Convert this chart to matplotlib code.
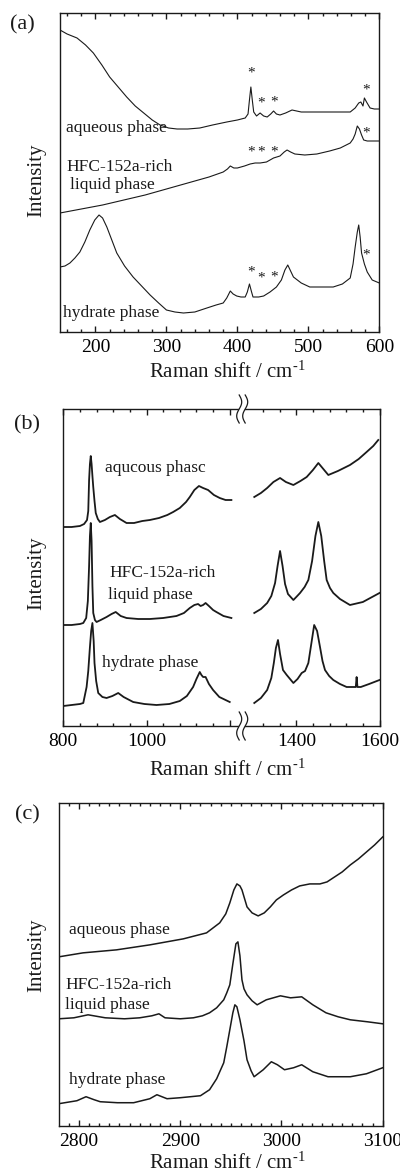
import numpy as np
import matplotlib
matplotlib.use('Agg')
import matplotlib.pyplot as plt
from matplotlib.lines import Line2D
from matplotlib.patches import Polygon

plt.rcParams['font.family'] = 'Liberation Serif'
plt.rcParams['mathtext.fontset'] = 'custom'
plt.rcParams['mathtext.rm'] = 'Liberation Serif'
plt.rcParams['mathtext.default'] = 'regular'

W, H = 400, 1174

# ---- panel (a): 150-600 cm-1 ----
a_aq_x = [150, 160, 174, 186, 197, 209, 220, 232, 244, 256, 268, 280, 291, 303, 315, 330, 347, 365, 385, 400,
          411, 415, 417, 419, 421, 423, 427, 432, 437, 442, 447, 451, 455, 460, 468, 477, 490, 512, 535, 559,
          566, 571, 574, 577, 579, 582, 587, 593, 600]
a_aq_y = [302, 298, 294, 287, 279, 267, 255, 245, 235, 226, 219, 212, 207, 204, 203, 203, 204, 207, 210, 212,
          214, 218, 232, 245, 232, 220, 216, 219, 216, 215, 218, 221, 218, 217, 219, 222, 220, 220, 220, 220,
          224, 229, 230, 226, 234, 230, 224, 223, 223]
a_lq_x = [150, 180, 210, 240, 270, 300, 330, 360, 380, 386, 390, 395, 400, 410, 418, 425, 432, 441, 451, 460,
          466, 470, 475, 481, 495, 512, 530, 545, 559, 563, 566, 569, 572, 575, 578, 583, 590, 600]
a_lq_y = [119, 123, 127, 132, 137, 143, 149, 155, 160, 163, 166, 164, 164, 166, 168, 169, 169, 170, 174, 176,
          180, 182, 180, 178, 177, 178, 181, 184, 189, 193, 198, 206, 203, 197, 192, 191, 191, 191]
a_hy_x = [150, 157, 164, 171, 178, 185, 192, 199, 205, 210, 216, 223, 230, 241, 253, 265, 277, 289, 300, 312,
          324, 340, 357, 370, 380, 385, 390, 394, 399, 405, 411, 414, 417, 420, 422, 430, 437, 446, 455, 462,
          467, 471, 475, 479, 490, 502, 520, 535, 548, 559, 563, 566, 569, 571, 573, 575, 579, 583, 590, 600]
a_hy_y = [65, 66, 69, 74, 80, 90, 102, 112, 117, 114, 105, 92, 79, 66, 55, 46, 37, 29, 22, 20,
          19, 20, 24, 27, 29, 34, 41, 38, 36, 35, 35, 40, 48, 40, 35, 35, 36, 40, 45, 52,
          62, 67, 61, 55, 49, 45, 45, 45, 48, 54, 68, 85, 100, 107, 95, 79, 68, 60, 52, 49]
# asterisks marking bands
a_star_x = [419, 433, 451, 582, 419, 433, 451, 582, 419, 433, 451, 582]
a_star_y = [259, 229, 230, 242, 180, 180, 180, 199, 60, 54, 55, 77]

# ---- panel (b): 800-1600 cm-1, broken axis ----
b_aq_lx = [800, 820, 840, 850, 857, 860, 862, 864, 866, 868, 870, 872, 875, 878, 883, 888, 900, 912, 924, 936,
           952, 970, 990, 1008, 1030, 1050, 1064, 1080, 1095, 1104, 1115, 1126, 1136, 1148, 1162, 1176, 1190, 1204]
b_aq_ly = [199, 199, 200, 202, 206, 215, 246, 262, 270, 262, 250, 239, 225, 213, 207, 204, 206, 209, 211, 207,
           203, 203, 205, 206, 208, 211, 214, 218, 224, 229, 236, 240, 238, 236, 231, 228, 226, 226]
b_aq_rx = [1299, 1315, 1330, 1345, 1361, 1375, 1393, 1410, 1425, 1440, 1453, 1465, 1477, 1500, 1529, 1550, 1569, 1585, 1597]
b_aq_ry = [229, 233, 238, 244, 248, 244, 241, 245, 249, 256, 263, 257, 251, 255, 261, 267, 274, 280, 286]
b_lq_lx = [800, 820, 840, 848, 855, 859, 862, 864, 866, 868, 870, 872, 876, 880, 890, 904, 916, 926, 938, 952,
           980, 1008, 1040, 1072, 1090, 1104, 1115, 1124, 1130, 1136, 1142, 1150, 1160, 1168, 1185, 1204]
b_lq_ly = [101, 101, 102, 103, 108, 125, 160, 190, 203, 185, 140, 113, 106, 104, 106, 109, 112, 114, 110, 108,
           107, 107, 108, 110, 113, 118, 121, 122, 120, 121, 123, 120, 116, 114, 110, 108]
b_lq_rx = [1299, 1315, 1330, 1340, 1349, 1355, 1361, 1367, 1373, 1380, 1393, 1400, 1409, 1420, 1429, 1438, 1446,
           1453, 1460, 1467, 1473, 1481, 1489, 1505, 1529, 1560, 1600]
b_lq_ry = [113, 117, 123, 130, 143, 160, 175, 160, 142, 132, 126, 129, 133, 139, 146, 165, 190,
           204, 190, 165, 146, 138, 133, 127, 121, 124, 133]
b_hy_lx = [800, 820, 840, 848, 856, 860, 864, 867, 870, 873, 875, 879, 884, 894, 904, 918, 932, 945, 968, 995,
           1024, 1055, 1080, 1097, 1112, 1120, 1128, 1132, 1136, 1142, 1150, 1160, 1175, 1200]
b_hy_ly = [20, 21, 22, 23, 39, 55, 79, 95, 103, 85, 63, 45, 33, 29, 28, 30, 33, 29, 24, 22,
           21, 22, 25, 30, 39, 47, 54, 51, 49, 49, 42, 36, 29, 24]
b_hy_rx = [1299, 1315, 1330, 1340, 1346, 1351, 1356, 1361, 1368, 1377, 1385, 1393, 1403, 1413, 1421, 1429, 1436,
           1443, 1450, 1457, 1463, 1469, 1479, 1489, 1505, 1521, 1535, 1543, 1545, 1547, 1555, 1575, 1600]
b_hy_ry = [23, 28, 36, 48, 63, 78, 86, 72, 56, 51, 47, 43, 47, 53, 55, 63, 82,
           101, 95, 79, 65, 56, 50, 46, 42, 39, 39, 39, 49, 39, 39, 42, 46]

# ---- panel (c): 2780-3100 cm-1 ----
c_aq_x = [2780, 2804, 2837, 2870, 2903, 2926, 2939, 2945, 2949, 2953, 2956, 2959, 2961, 2966, 2971, 2977, 2983,
          2989, 2995, 3002, 3010, 3018, 3028, 3038, 3045, 3051, 3060, 3068, 3076, 3084, 3092, 3100]
c_aq_y = [169, 173, 176, 181, 187, 193, 203, 212, 223, 236, 242, 240, 236, 219, 213, 210, 213,
          219, 226, 231, 236, 240, 242, 242, 244, 248, 254, 261, 267, 274, 281, 289]
c_lq_x = [2780, 2795, 2809, 2826, 2845, 2860, 2872, 2879, 2885, 2900, 2913, 2922, 2929, 2936, 2943, 2946, 2949,
          2952, 2955, 2957, 2959, 2961, 2963, 2966, 2971, 2976, 2985, 2999, 3009, 3020, 3031, 3044, 3056, 3068,
          3085, 3100]
c_lq_y = [107, 108, 111, 108, 107, 108, 110, 112, 108, 107, 108, 110, 113, 118, 126, 133, 141,
          162, 182, 184, 170, 146, 137, 131, 125, 121, 126, 130, 128, 129, 121, 113, 109, 106,
          104, 102]
c_hy_x = [2780, 2798, 2807, 2815, 2821, 2838, 2854, 2870, 2877, 2887, 2900, 2920, 2929, 2936, 2943, 2946, 2949,
          2952, 2954, 2956, 2959, 2963, 2966, 2970, 2973, 2982, 2990, 2996, 3003, 3012, 3020, 3031, 3046, 3068,
          3084, 3100]
c_hy_y = [22, 25, 29, 26, 24, 23, 23, 27, 31, 27, 28, 30, 36, 47, 63, 79, 96,
          113, 121, 119, 106, 85, 66, 55, 49, 56, 64, 61, 56, 58, 61, 54, 49, 49,
          52, 58]

LC = '#1a1a1a'


def fpos(x, y):
    # pixel position (from top-left) -> figure fraction
    return x / W, 1 - y / H


def axrect(x0, y0, x1, y1):
    return [x0 / W, 1 - y1 / H, (x1 - x0) / W, (y1 - y0) / H]


def style_ax(ax, major, minor):
    ax.set_yticks([])
    ax.set_xticks(major)
    ax.set_xticks(minor, minor=True)
    ax.tick_params(axis='x', which='both', direction='in', top=True, bottom=True,
                   labelsize=14, pad=5, width=1, color=LC)
    ax.tick_params(axis='x', which='major', length=4)
    ax.tick_params(axis='x', which='minor', length=2.2)
    for s in ax.spines.values():
        s.set_linewidth(1.0)
        s.set_color(LC)


def label(x, y, s, size=12.5, ha='left'):
    fig.text(*fpos(x, y), s, fontsize=size, ha=ha, va='center', color=LC)


fig = plt.figure(figsize=(W / 100, H / 100), dpi=100)

# (a)
axa = fig.add_axes(axrect(60, 13, 379.3, 332))
for x, y in [(a_aq_x, a_aq_y), (a_lq_x, a_lq_y), (a_hy_x, a_hy_y)]:
    axa.plot(x, y, color=LC, lw=0.8)
for x, y in zip(a_star_x, a_star_y):
    axa.text(x, y, '*', fontsize=11, ha='center', va='center', color=LC)
axa.set_xlim(150, 600)
axa.set_ylim(0, 319)
style_ax(axa, [200, 300, 400, 500, 600], np.arange(160, 600, 20))

# (b) broken axis
xbr = 63.3 + 316.2 * 430 / 760
axbl = fig.add_axes(axrect(63.3, 409, xbr, 726))
axbr = fig.add_axes(axrect(xbr, 409, 379.5, 726))
for x, y in [(b_aq_lx, b_aq_ly), (b_lq_lx, b_lq_ly), (b_hy_lx, b_hy_ly)]:
    axbl.plot(x, y, color=LC, lw=1.3)
for x, y in [(b_aq_rx, b_aq_ry), (b_lq_rx, b_lq_ry), (b_hy_rx, b_hy_ry)]:
    axbr.plot(x, y, color=LC, lw=1.3)
axbl.set_xlim(800, 1230)
axbr.set_xlim(1270, 1600)
for ax in (axbl, axbr):
    ax.set_ylim(0, 317)
style_ax(axbl, [800, 1000, 1200], np.arange(840, 1200, 40))
axbl.set_xticklabels(['800', '1000', ''])
style_ax(axbr, [1400, 1600], [1320, 1360, 1440, 1480, 1520, 1560])
axbl.spines['right'].set_visible(False)
axbr.spines['left'].set_visible(False)

# wavy break marks
t = np.linspace(-1, 1, 40)
for yb in (409, 726):
    xs1 = xbr - 3 - 2.5 * np.sin(np.pi * t)
    xs2 = xs1 + 6
    ys = yb + 14 * t
    gap = np.column_stack([np.r_[xs1, xs2[::-1]] / W, 1 - np.r_[ys, ys[::-1]] / H])
    fig.patches.append(Polygon(gap, closed=True, transform=fig.transFigure,
                               facecolor='white', edgecolor='none', zorder=5))
    for xs in (xs1, xs2):
        fig.add_artist(Line2D(xs / W, 1 - ys / H, color=LC, lw=0.9, zorder=6))

# (c)
axc = fig.add_axes(axrect(58.7, 803, 382.7, 1125.7))
for x, y in [(c_aq_x, c_aq_y), (c_lq_x, c_lq_y), (c_hy_x, c_hy_y)]:
    axc.plot(x, y, color=LC, lw=1.1)
axc.set_xlim(2780, 3100)
axc.set_ylim(0, 323)
style_ax(axc, [2800, 2900, 3000, 3100], np.arange(2790, 3100, 10))

# panel letters
label(22, 25, '(a)', size=16, ha='center')
label(27, 425, '(b)', size=16, ha='center')
label(27, 815, '(c)', size=16, ha='center')

# axis titles
for yc, yl in [(180, 372), (573, 770), (955, 1163)]:
    fig.text(*fpos(37, yc), 'Intensity', rotation=90, fontsize=15, ha='center', va='center', color=LC)
    fig.text(*fpos(227, yl), r'Raman shift / cm$^{\text{-}1}$', fontsize=15, ha='center', va='center', color=LC)

# phase labels
label(66, 128, 'aqueous phase')
label(66, 167, 'HFC-152a-rich')
label(70, 185, 'liquid phase')
label(63, 313, 'hydrate phase')

label(105, 468, 'aqucous phasc')
label(109, 573, 'HFC-152a-rich')
label(108, 595, 'liquid phase')
label(102, 663, 'hydrate phase')

label(69, 930, 'aqueous phase')
label(65, 985, 'HFC-152a-rich')
label(65, 1005, 'liquid phase')
label(69, 1080, 'hydrate phase')

fig.savefig('out.png', dpi=100)
